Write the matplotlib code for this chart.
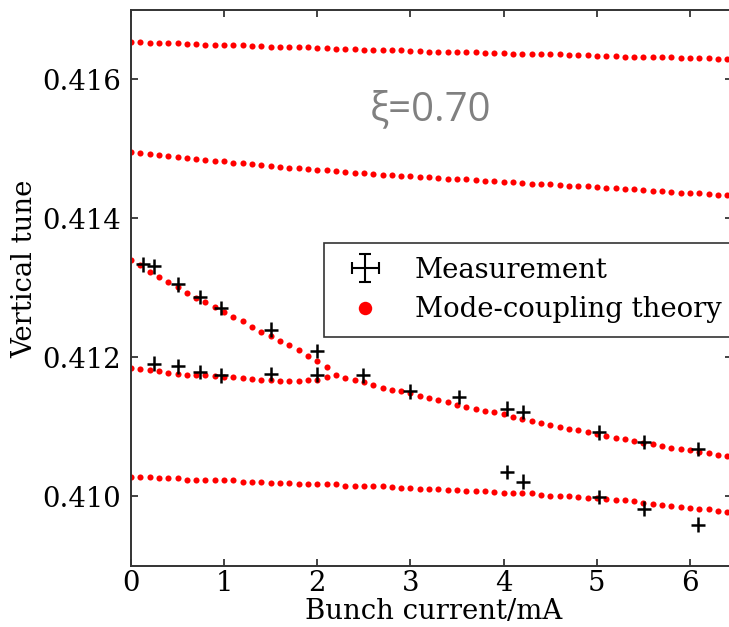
import numpy as np
import matplotlib.pyplot as plt

# theory curves, one dot every 0.1 mA
x_full = np.round(np.arange(0, 6.55, 0.1), 1)
tune_top = [0.41654, 0.41654, 0.41653, 0.41653, 0.41652, 0.41652, 0.41651, 0.41651, 0.41650, 0.41650,
            0.41650, 0.41649, 0.41649, 0.41648, 0.41648, 0.41647, 0.41647, 0.41646, 0.41646, 0.41646,
            0.41645, 0.41645, 0.41644, 0.41644, 0.41644, 0.41643, 0.41643, 0.41642, 0.41642, 0.41642,
            0.41641, 0.41641, 0.41640, 0.41640, 0.41640, 0.41639, 0.41639, 0.41639, 0.41638, 0.41638,
            0.41638, 0.41637, 0.41637, 0.41637, 0.41636, 0.41636, 0.41636, 0.41635, 0.41635, 0.41635,
            0.41634, 0.41634, 0.41634, 0.41633, 0.41633, 0.41633, 0.41632, 0.41632, 0.41632, 0.41631,
            0.41631, 0.41631, 0.41631, 0.41630, 0.41630, 0.41630]
tune_second = [0.41496, 0.41494, 0.41493, 0.41491, 0.41490, 0.41488, 0.41487, 0.41486, 0.41484, 0.41483,
               0.41482, 0.41480, 0.41479, 0.41478, 0.41477, 0.41476, 0.41474, 0.41473, 0.41472, 0.41471,
               0.41470, 0.41469, 0.41468, 0.41467, 0.41466, 0.41465, 0.41464, 0.41463, 0.41462, 0.41461,
               0.41461, 0.41460, 0.41459, 0.41458, 0.41457, 0.41457, 0.41456, 0.41455, 0.41454, 0.41454,
               0.41453, 0.41452, 0.41451, 0.41450, 0.41450, 0.41449, 0.41448, 0.41447, 0.41446, 0.41446,
               0.41445, 0.41444, 0.41443, 0.41442, 0.41442, 0.41441, 0.41440, 0.41439, 0.41438, 0.41437,
               0.41436, 0.41436, 0.41435, 0.41434, 0.41433, 0.41432]
tune_bottom = [0.41028, 0.41028, 0.41028, 0.41026, 0.41026, 0.41026, 0.41024, 0.41024, 0.41024, 0.41023,
               0.41023, 0.41023, 0.41021, 0.41021, 0.41021, 0.41019, 0.41019, 0.41019, 0.41018, 0.41018,
               0.41018, 0.41017, 0.41017, 0.41015, 0.41015, 0.41015, 0.41014, 0.41014, 0.41013, 0.41012,
               0.41012, 0.41011, 0.41011, 0.41010, 0.41009, 0.41009, 0.41008, 0.41007, 0.41007, 0.41006,
               0.41005, 0.41005, 0.41004, 0.41004, 0.41002, 0.41001, 0.41001, 0.41000, 0.40999, 0.40998,
               0.40998, 0.40996, 0.40995, 0.40994, 0.40993, 0.40990, 0.40989, 0.40988, 0.40986, 0.40985,
               0.40983, 0.40982, 0.40981, 0.40978, 0.40977, 0.40976]

# the two coupled modes before they merge (0 - 2.1 mA)
x_split = np.round(np.arange(0, 2.15, 0.1), 1)
tune_upper = [0.41340, 0.41333, 0.41323, 0.41315, 0.41308, 0.41301, 0.41293, 0.41286, 0.41279, 0.41272,
              0.41265, 0.41258, 0.41252, 0.41244, 0.41237, 0.41231, 0.41224, 0.41217, 0.41210, 0.41202,
              0.41195, 0.41186]
tune_lower = [0.41185, 0.41183, 0.41182, 0.41180, 0.41178, 0.41176, 0.41175, 0.41174, 0.41174, 0.41173,
              0.41172, 0.41171, 0.41170, 0.41169, 0.41168, 0.41167, 0.41166, 0.41166, 0.41166, 0.41167,
              0.41168, 0.41171]
# merged mode (2.2 - 6.5 mA)
x_merged = np.round(np.arange(2.2, 6.55, 0.1), 1)
tune_merged = [0.41175, 0.41170, 0.41167, 0.41164, 0.41160, 0.41156, 0.41153, 0.41151, 0.41148, 0.41144,
               0.41141, 0.41138, 0.41135, 0.41132, 0.41129, 0.41126, 0.41123, 0.41121, 0.41118, 0.41114,
               0.41111, 0.41109, 0.41106, 0.41103, 0.41100, 0.41097, 0.41095, 0.41092, 0.41090, 0.41086,
               0.41084, 0.41082, 0.41079, 0.41077, 0.41075, 0.41072, 0.41070, 0.41068, 0.41066, 0.41064,
               0.41062, 0.41059, 0.41058, 0.41056]

# measurements
meas_x = [0.13, 0.25, 0.50, 0.74, 0.97, 1.50, 2.00,
          0.25, 0.50, 0.74, 0.97, 1.50, 2.00, 2.49, 2.99, 3.52, 4.04, 4.21, 5.02, 5.51, 6.09,
          4.04, 4.21, 5.02, 5.51, 6.09]
meas_y = [0.41334, 0.41331, 0.41305, 0.41287, 0.41271, 0.41240, 0.41209,
          0.41191, 0.41187, 0.41179, 0.41174, 0.41176, 0.41175, 0.41174, 0.41151, 0.41143, 0.41126,
          0.41121, 0.41092, 0.41078, 0.41068,
          0.41035, 0.41021, 0.40999, 0.40982, 0.40959]

plt.rcParams['font.family'] = 'DejaVu Serif'
fs = 19.8

fig = plt.figure(figsize=(7.29, 6.27), dpi=100)
ax = fig.add_axes([0.1796, 0.0978, 0.8245, 0.8863])

dot = dict(ls='none', marker='o', ms=4.4, color='#ff0000', mec='none')
ax.plot(x_full, tune_top, **dot)
ax.plot(x_full, tune_second, **dot)
ax.plot(x_full, tune_bottom, **dot)
ax.plot(x_split, tune_upper, **dot)
ax.plot(x_split, tune_lower, **dot)
ax.plot(x_merged, tune_merged, **dot, label='Mode-coupling theory')

ax.errorbar(meas_x, meas_y, xerr=0.075, yerr=0.000105, fmt='none',
            ecolor='black', elinewidth=1.8, capsize=0)
# proxy with caps, only for the legend
proxy = ax.errorbar([np.nan], [np.nan], xerr=0.07, yerr=0.0001, fmt='none',
                    ecolor='black', elinewidth=1.5, capsize=4.5, capthick=1.5)

ax.text(3.22, 0.41556, '\u03be=0.70', color='#808080', fontsize=29,
        family='Open Sans', ha='center', va='center')

ax.set_xlim(0, 6.45)
ax.set_ylim(0.409, 0.417)
ax.set_xticks([0, 1, 2, 3, 4, 5, 6])
ax.set_yticks([0.410, 0.412, 0.414, 0.416])
ax.set_yticklabels(['0.410', '0.412', '0.414', '0.416'])
ax.tick_params(direction='in', length=5, width=1.2, labelsize=fs,
               top=True, right=True, pad=7, color='#222222')
ax.tick_params(axis='x', pad=3)
for s in ax.spines.values():
    s.set_linewidth(1.4)
    s.set_color('#333333')

ax.set_xlabel('Bunch current/mA', fontsize=fs, va='center')
ax.xaxis.set_label_coords(0.503, -0.083)
ax.set_ylabel('Vertical tune', fontsize=fs, va='center')
ax.yaxis.set_label_coords(-0.177, 0.535)

handles, labels = ax.get_legend_handles_labels()
leg = ax.legend([proxy, handles[0]], ['Measurement', 'Mode-coupling theory'],
                loc='upper left', bbox_to_anchor=(324 / 729, 1 - 243 / 627),
                bbox_transform=fig.transFigure, borderaxespad=0,
                fontsize=fs, numpoints=1, markerscale=2.2, fancybox=False,
                framealpha=1, edgecolor='#333333', labelspacing=0.45,
                borderpad=0.5)
leg.get_frame().set_linewidth(1.2)

fig.savefig('out.png', dpi=100)
